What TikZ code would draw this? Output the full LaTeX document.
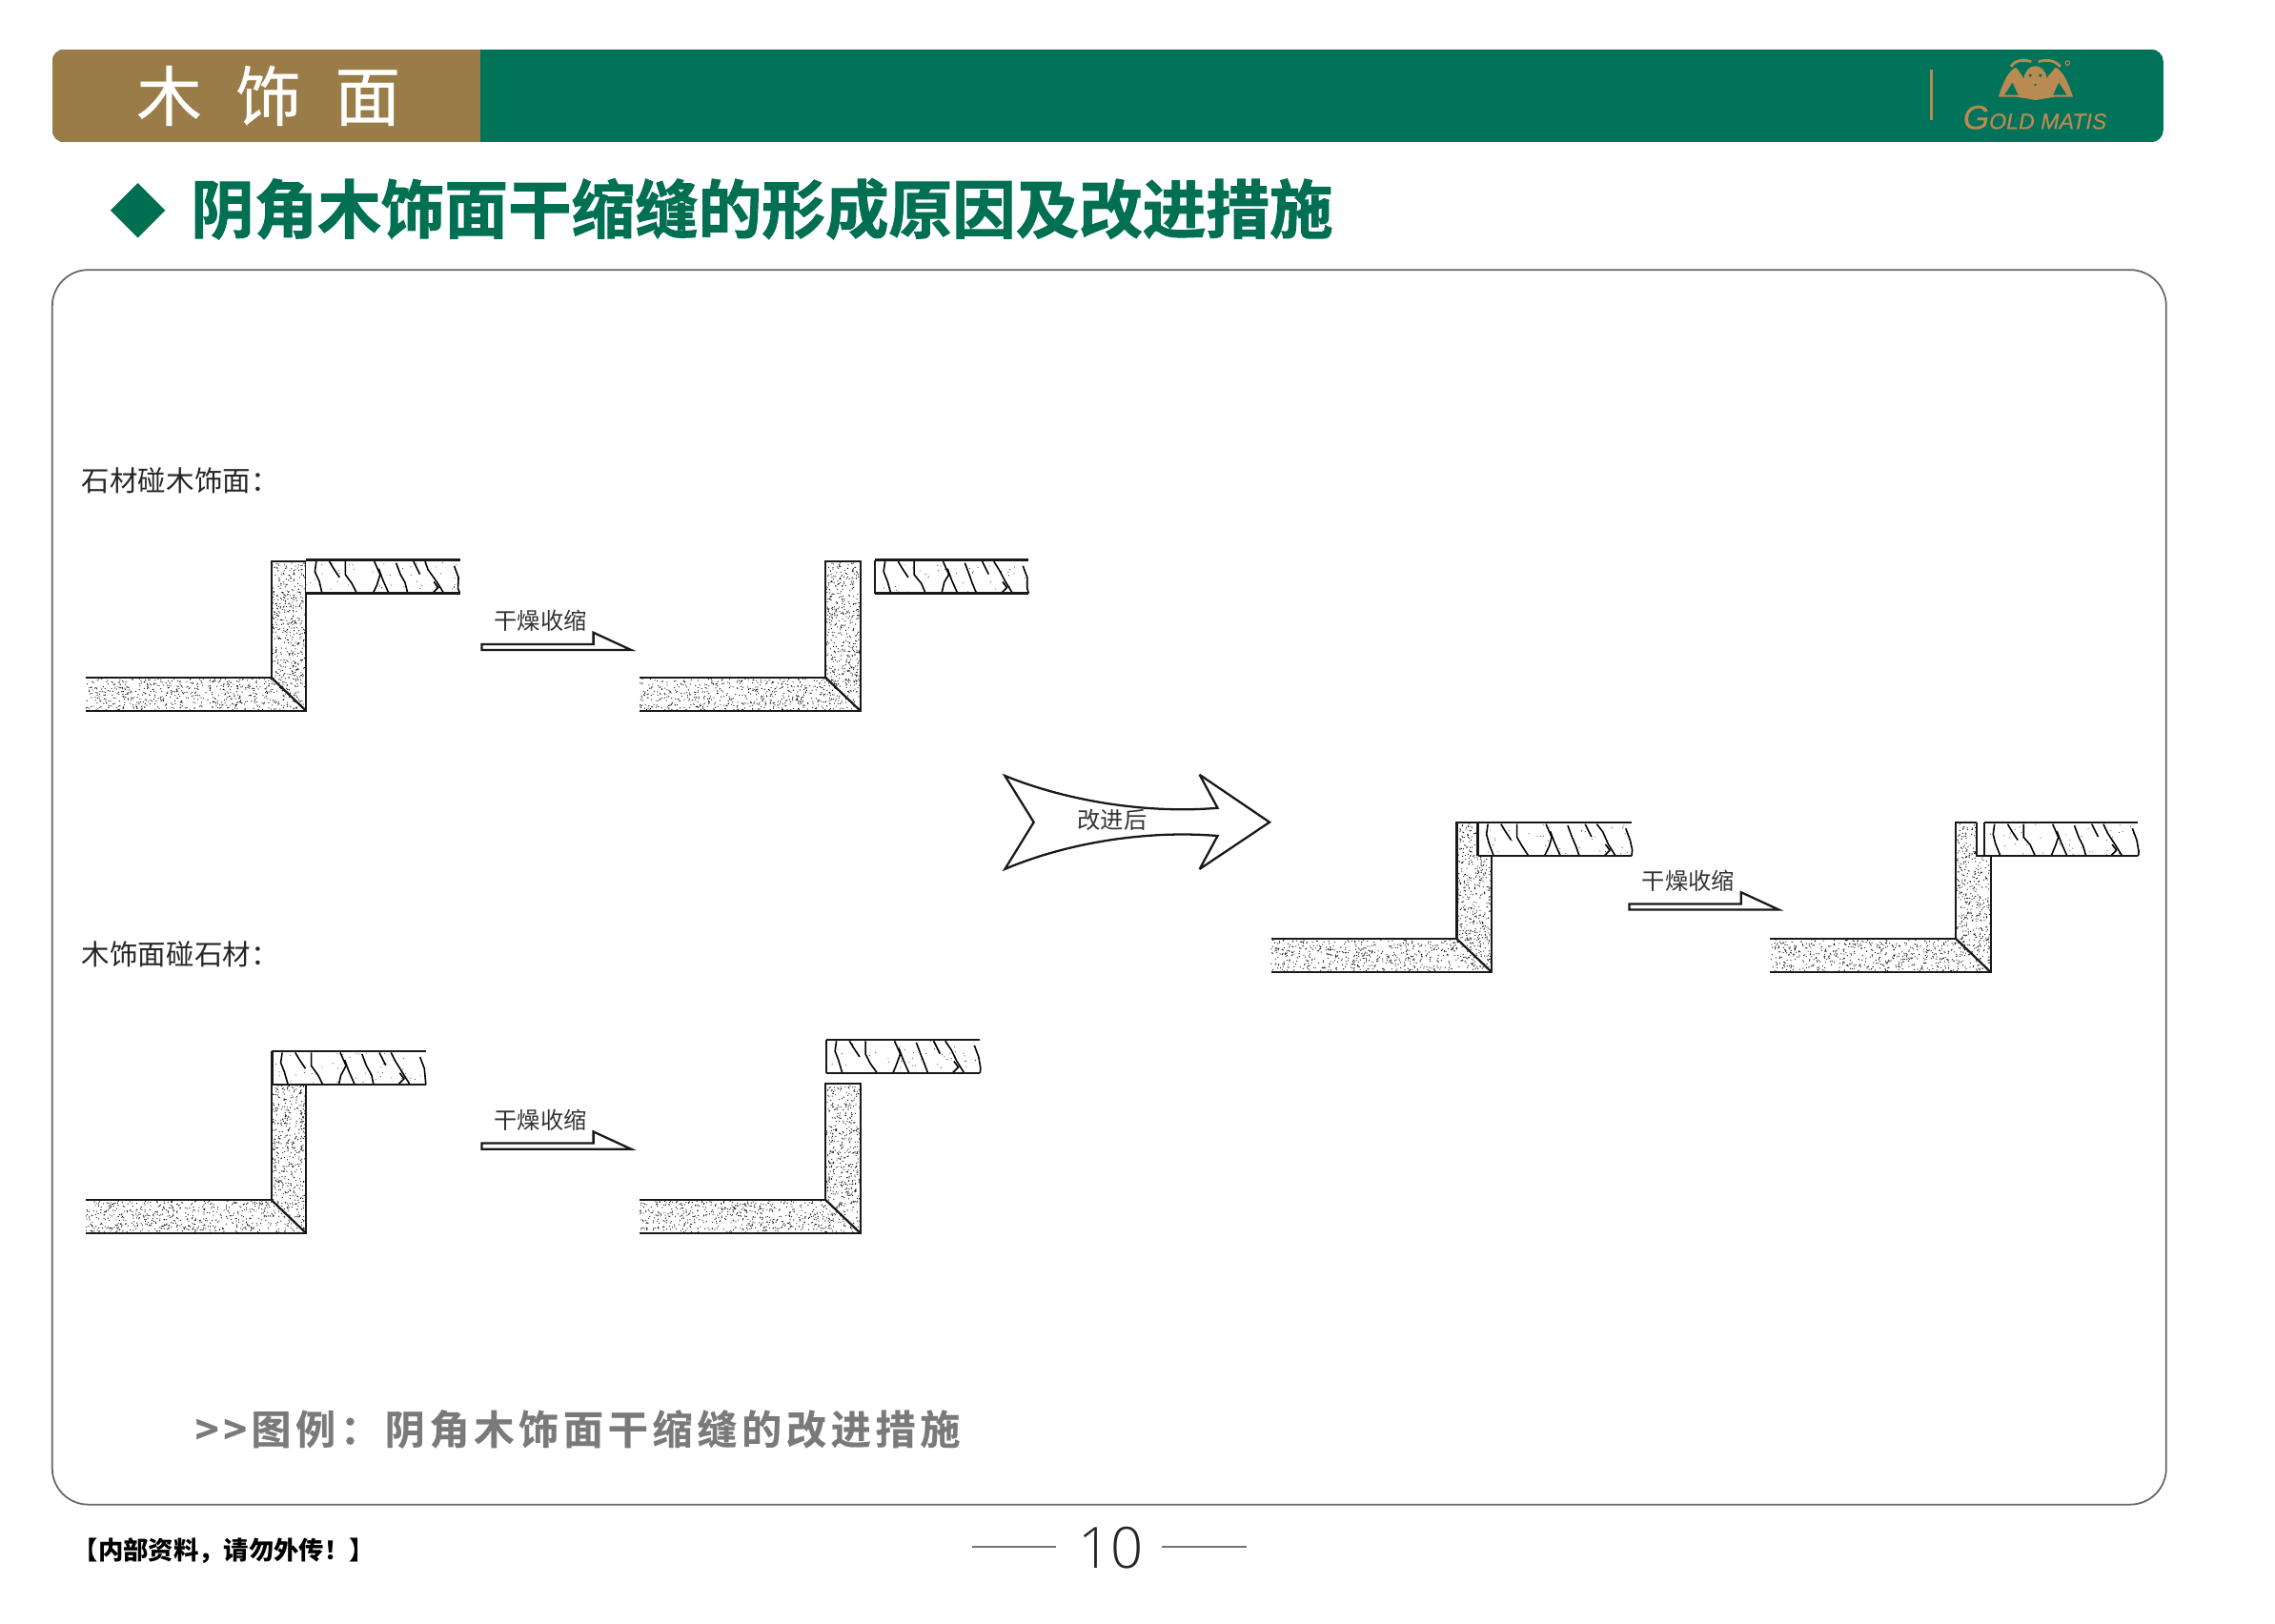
\documentclass[tikz,border=0pt]{standalone}
\usepackage{fontspec}
\usepackage{xcolor}
\usetikzlibrary{decorations.pathmorphing,shapes.geometric}
\setmainfont{Noto Sans CJK SC}
\newfontfamily\heavyfont[FakeBold=1.5]{Noto Sans CJK SC Bold}
\newfontfamily\sectionfont[FakeBold=0.5]{Noto Sans CJK SC}
\newfontfamily\legendfont[LetterSpace=11,FakeBold=0.5]{Noto Sans CJK SC Bold}
\newfontfamily\thinfont{Open Sans Light}
\newfontfamily\logofont[FakeBold=0.6]{Liberation Sans Italic}
\begin{document}
\begin{tikzpicture}[x=0.015223cm,y=-0.015223cm,
  outline/.style={draw=black!90,line width=0.65pt,line join=miter},
  crack/.style={draw=black,line width=0.45pt,decorate,decoration={random steps,segment length=3pt,amplitude=0.5pt}},
  tag/.style={inner sep=0pt,font=\fontsize{6.9}{8}\selectfont,text=black!80},
  caption/.style={inner sep=0pt,anchor=west,font=\fontsize{8.4}{10}\selectfont,text=black!85},
  wallcorner/.pic={
    \fill[black!90] foreach \n in {1,...,650} {(-128+rnd*152,0.8+rnd*21.5) circle[radius=0.42]};
    \fill[black!90] foreach \n in {1,...,390} {(0.8+rnd*22.5,-79+rnd*80) circle[radius=0.42]};
    \draw[outline] (-128,0) -- (0,0) -- (0,-80) -- (24,-80) -- (24,23) -- (-128,23);
    \draw[outline] (0,0) -- (24,23);
  },
  woodboard/.pic={
    \fill[white] (0,0) rectangle (106,23);
    \fill[black!80] foreach \n in {1,...,40} {(rnd*104,1+rnd*21) circle[radius=0.35]};
    \foreach \xa/\ya/\xb/\yb/\xc/\yc in {7/1/6/8/11/23,16/1/19/6/23/12,27/1/27/10/35/23,47/1/51/10/46/23,50/6/53/14/57/23,62/2/65/10/70/23,74/1/76/5/78/10,82/1/90/15/95/23,88/15/91/19/87/23,102/4/105/12/106/23}
      {\draw[crack] (\xa,\ya) -- (\xb,\yb) -- (\xc,\yc);}
    \draw[outline] (0,0) -- (106,0) (0,23) -- (106,23);
  }]
\definecolor{bargreen}{HTML}{00735A}
\definecolor{bargold}{HTML}{9A7C48}
\definecolor{logogold}{HTML}{B98A52}
\definecolor{headgreen}{HTML}{006F52}
\useasboundingbox (0,0) rectangle (1568,1118.7);
\begin{scope}
  \clip[rounded corners=3.6pt] (36,34) rectangle (1491,98);
  \fill[bargreen] (36,34) rectangle (1491,98);
  \fill[bargold] (36,34) rectangle (331,98);
\end{scope}
\node (section) [inner sep=0pt,text=white,font=\sectionfont\fontsize{19.5}{22}\selectfont] at (185,66) {木\hspace{0.52em}饰\hspace{0.52em}面};
\fill[logogold] (1330.5,48) rectangle (1332.2,83);
\fill[logogold] (1377.3,66.8) .. controls (1381,56) and (1384,49) .. (1389.4,46.5) .. controls (1393,50) and (1396,58) .. (1403,63) -- (1416.7,46.5) .. controls (1422,49) and (1425,56) .. (1428.8,66.8) -- (1416,66.8) -- (1403,69) -- (1390,66.8) -- cycle;
\fill[bargreen] (1381.5,65.5) -- (1387,57) -- (1391,65.5) -- cycle (1424.5,65.5) -- (1419,57) -- (1415,65.5) -- cycle;
\fill[logogold] (1402.8,54.5) ellipse[x radius=7.8,y radius=9];
\fill[bargreen] (1399.3,52) circle[radius=1.2] (1406.3,52) circle[radius=1.2] (1402.8,58.5) circle[radius=0.9];
\draw[logogold,line width=0.8pt] (1386,46) .. controls (1389,41) and (1395,41) .. (1400,42.5) (1405,42.5) .. controls (1410,41) and (1416,41) .. (1420,46);
\draw[logogold,line width=0.3pt] (1425,43.4) circle[radius=1.5];
\node (brand) [inner sep=0pt,text=logogold,font=\logofont\fontsize{6.6}{8}\selectfont] at (1402.5,81) {{\fontsize{10}{10}\selectfont G}OLD MATIS};
\node (bullet) [diamond,aspect=1,fill=headgreen,minimum size=0.58cm,inner sep=0pt] at (95,145) {};
\node (title) [inner sep=0pt,anchor=west,text=headgreen,font=\heavyfont\fontsize{18.95}{22}\selectfont] at (131,144) {阴角木饰面干缩缝的形成原因及改进措施};
\draw[black!60,line width=0.5pt,rounded corners=10.8pt] (36,186) rectangle (1493,1037);
\node (stonefirst) [caption] at (56,331) {石材碰木饰面：};
\node (woodfirst) [caption] at (56,658) {木饰面碰石材：};
\pgfmathsetseed{2387}
\foreach \ox/\oy in {187/467,569/467,187/827,569/827,1004/647,1348/647}
  {\pic at (\ox,\oy) {wallcorner};}
\pic at (211,386) {woodboard};
\pic at (603,386) {woodboard};
\draw[outline] (603,386) -- (603,409);
\pic at (187.5,724.5) {woodboard};
\draw[outline] (187.5,724.5) -- (187.5,747.5);
\pic at (569.5,716.5) {woodboard};
\draw[outline] (569.5,716.5) -- (569.5,739.5);
\pic at (1018.5,567) {woodboard};
\draw[outline] (1018.5,567) -- (1018.5,590);
\fill[white] (1362.6,566) rectangle (1372,590);
\draw[outline] (1362.6,567) -- (1362.6,590) -- (1371,590);
\pic at (1367.7,567) {woodboard};
\draw[outline] (1367.7,567) -- (1367.7,590);
\foreach \i/\ax/\ay in {a/332/448,b/332/792,c/1123/627}
{
  \draw[outline] (\ax,\ay) -- (\ax,\ay-4) -- (\ax+77,\ay-4) -- (\ax+77,\ay-12) -- (\ax+103,\ay) -- cycle;
  \node (shrink\i) [tag] at (\ax+40.5,\ay-20) {干燥收缩};
}
\draw[outline,line join=miter,miter limit=4] (692.6,534.7) .. controls (735,552) and (790,561) .. (839.2,556.9) -- (826.8,534) -- (875,566.7) -- (826.8,599) -- (839.2,576.1) .. controls (790,572) and (735,581) .. (692.6,599) -- (712.5,566.7) -- cycle;
\node (improved) [tag] at (766.5,565) {改进后};
\node (legend) [inner sep=0pt,anchor=west,text=black!52,font=\legendfont\fontsize{12}{14}\selectfont] at (134,985) {{>}{>}\hspace{0.1em}图例：阴角木饰面干缩缝的改进措施};
\node (notice) [inner sep=0pt,anchor=west,font=\bfseries\fontsize{7.5}{9}\selectfont] at (50,1069) {【内部资料，请勿外传！】};
\node (pageno) [inner sep=0pt,text=black!85,font=\thinfont\fontsize{17}{20}\selectfont] at (765.5,1067) {10};
\coordinate (ruleleft) at (670,1066);
\coordinate (ruleright) at (859,1066);
\draw[black!55,line width=0.6pt] (ruleleft) -- (728,1066) (801,1066) -- (ruleright);
\end{tikzpicture}
\end{document}
